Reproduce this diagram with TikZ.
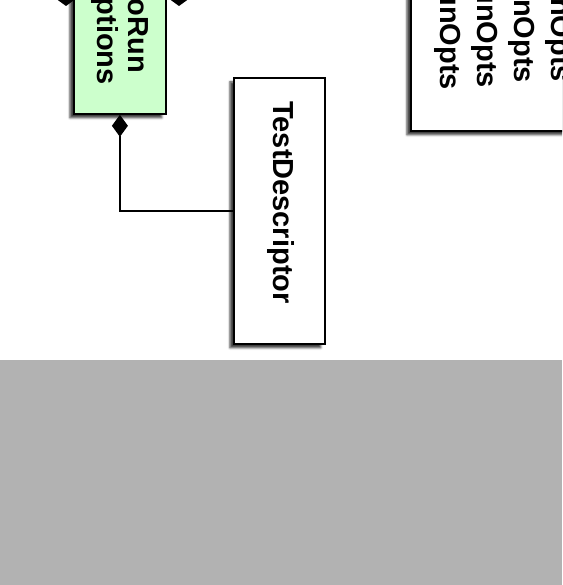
\documentclass[tikz,border=0pt]{standalone}
\usepackage{fontspec}
\setmainfont{Liberation Sans}
\usetikzlibrary{positioning,arrows.meta,shadows.blur}
\definecolor{vertopt}{RGB}{204,255,204}
\definecolor{fondgris}{RGB}{178,178,178}

\begin{document}
\begin{tikzpicture}[x=1pt,y=1pt,
    classe/.style={draw,line width=1.8pt,inner sep=0pt,anchor=north west,
      blur shadow={shadow xshift=-4pt,shadow yshift=-4pt,shadow opacity=75}},
    txt/.style={rotate=-90,inner sep=0pt,font=\bfseries\fontsize{29}{30}\selectfont},
    comp/.style={{Diamond[length=22pt,width=16pt]}-,line width=1.4pt}]
    \useasboundingbox (0,0) rectangle (562,-585);
    \clip (0,0) rectangle (562,-585);
    \fill[fondgris] (0,-360) rectangle (562,-585);
    \node[classe,fill=vertopt,minimum width=92pt,minimum height=153pt](opts)at(73,40){};
    \node[classe,fill=white,minimum width=91pt,minimum height=266pt](tdesc)at(233,-77){};
    \node[classe,fill=white,minimum width=200pt,minimum height=170pt](runs)at(410,40){};
    \node[txt,anchor=base east](opt1)at(128,-73){oRun};
    \node[txt,anchor=base east](opt2)at(97,-85){ptions};
    \node[txt,anchor=base west](tdtxt)at(273,-101){TestDescriptor};
    \node[txt,anchor=base east](run1)at(440,-90){unOpts};
    \node[txt,anchor=base east](run2)at(477,-88){unOpts};
    \node[txt,anchor=base east](run3)at(514,-83){nOpts};
    \node[txt,anchor=base east](run4)at(551,-82){nOpts};
    \coordinate (dl) at (66,-6);
    \coordinate (dlup) at (66,40);
    \coordinate (dr) at (179,-6);
    \coordinate (drup) at (179,40);
    \draw[{Diamond[length=16pt,width=22pt]}-,line width=1.4pt] (dl)--(dlup);
    \draw[{Diamond[length=16pt,width=22pt]}-,line width=1.4pt] (dr)--(drup);
    \draw[comp] (opts.south)|-(tdesc.west);
\end{tikzpicture}
\end{document}
